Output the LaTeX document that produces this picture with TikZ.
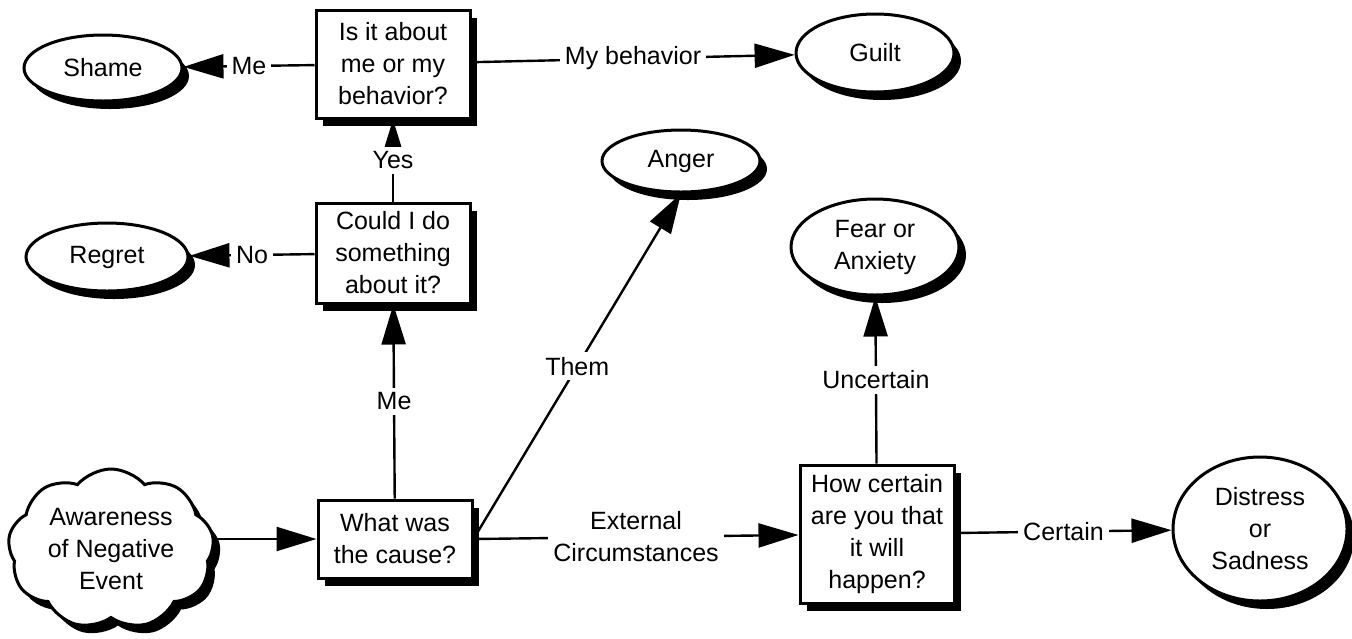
\documentclass[tikz,border=0pt]{standalone}
\usepackage{fontspec}
\setmainfont{Liberation Sans}
\usepackage{tikz}
\usetikzlibrary{shapes.geometric,shapes.symbols,shadows,arrows.meta}
\newcommand\ask[4][]{\node[ask,#1] (#2) at (#3) {#4};}
\newcommand\emotion[4][]{\node[emotion,#1] (#2) at (#3) {#4};}
\newcommand\link[3]{\draw[flow] (#1) -- node[lbl]{#3} (#2);}

\begin{document}
\begin{tikzpicture}[x=0.5pt,y=-0.5pt]
\tikzstyle{blackshadow}=[drop shadow={shadow xshift=3.5pt,shadow yshift=-4pt,fill=black,opacity=1}]
\tikzstyle{ask}=[draw,line width=1.5pt,fill=white,align=center,minimum width=77pt,inner sep=2pt,blackshadow,font=\fontsize{12.5}{16}\selectfont]
\tikzstyle{emotion}=[draw,ellipse,line width=1.5pt,fill=white,align=center,inner sep=0pt,blackshadow,font=\fontsize{12.5}{16}\selectfont]
\tikzstyle{lbl}=[fill=white,inner sep=2.5pt,align=center,font=\fontsize{12.5}{16}\selectfont]
\tikzstyle{flow}=[line width=1.2pt,-{Triangle[length=20pt,width=12pt]}]
\useasboundingbox (0,0) rectangle (1352,638);
% questions
\ask[minimum height=54pt]{isit}{393,64}{Is it about\\me or my\\behavior?}
\ask[minimum height=50pt]{could}{393,253}{Could I do\\something\\about it?}
\ask[minimum height=39pt]{what}{395,539}{What was\\the cause?}
\ask[minimum height=69pt]{how}{877,534}{How certain\\are you that\\it will\\happen?}
% feelings
\emotion[minimum width=79pt,minimum height=33pt]{shame}{103,68}{Shame}
\emotion[minimum width=79pt,minimum height=39pt]{guilt}{875,53}{Guilt}
\emotion[minimum width=81pt,minimum height=34pt]{regret}{107,257}{Regret}
\emotion[minimum width=79pt,minimum height=31pt]{anger}{681,161}{Anger}
\emotion[minimum width=84pt,minimum height=48pt]{fear}{875,247}{Fear or\\Anxiety}
\emotion[minimum width=87pt,minimum height=72pt]{distress}{1260,529}{Distress\\or\\Sadness}
% the event
\node[cloud,cloud puffs=9,cloud puff arc=100,cloud ignores aspect,draw,line width=1.5pt,fill=white,minimum width=103pt,minimum height=80pt,align=center,inner sep=0pt,blackshadow,font=\fontsize{12.5}{16}\selectfont] (event) at (111,549) {Awareness\\of Negative\\Event};
% connectors
\draw[flow] (event.east |- what.west) -- (what.west);
\link{what}{could}{Me}
\link{could}{isit}{Yes}
\link{could}{regret}{No}
\link{isit}{shame}{Me}
\link{isit}{guilt}{My behavior}
\link{what.east}{anger.south}{Them}
\link{what.east}{how}{External\\Circumstances}
\link{how}{fear}{Uncertain}
\link{how}{distress}{Certain}
\end{tikzpicture}
\end{document}
